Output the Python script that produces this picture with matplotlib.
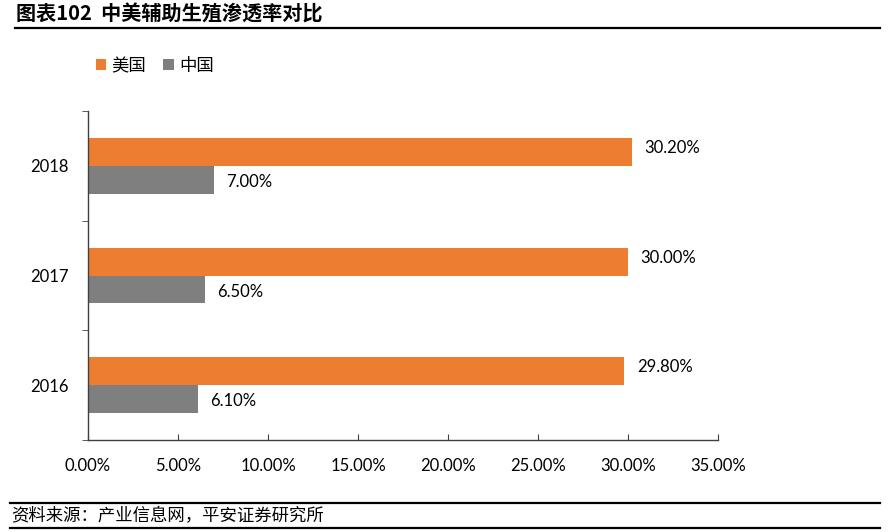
import matplotlib
matplotlib.use("Agg")
import matplotlib.pyplot as plt
import numpy as np

plt.rcParams['font.family'] = ['Noto Sans CJK SC', 'DejaVu Sans']

years = ['2016', '2017', '2018']
usa = [29.8, 30.0, 30.2]
china = [6.1, 6.5, 7.0]
xticks = [0, 5, 10, 15, 20, 25, 30, 35]

LAT = ['Lato', 'DejaVu Sans']

W, H = 891, 532
fig = plt.figure(figsize=(W/100, H/100), dpi=100)
ax = fig.add_axes([88/W, 1-440/H, (718-88)/W, (440-111)/H])

y = np.arange(len(years))
h = 0.255
ax.barh(y + h/2, usa, height=h, color='#ED7D31', label='美国')
ax.barh(y - h/2, china, height=h, color='#7F7F7F', label='中国')

for yi, v in zip(y, usa):
    ax.text(v + 0.7, yi + h/2 + 0.035, f'{v:.2f}%', va='center', ha='left', fontsize=12, family=LAT)
for yi, v in zip(y, china):
    ax.text(v + 0.7, yi - h/2 - 0.02, f'{v:.2f}%', va='center', ha='left', fontsize=12, family=LAT)

ax.set_xlim(0, 35)
ax.set_ylim(-0.5, len(years) - 0.5)
ax.set_xticks(xticks)
ax.set_xticklabels([f'{t:.2f}%' for t in xticks], fontsize=12, family=LAT)
ax.set_yticks(y)
ax.set_yticklabels(years, fontsize=12, family=LAT)
ax.set_yticks(np.arange(-0.5, len(years)), minor=True)
ax.tick_params(axis='y', which='major', length=0, pad=14)
ax.tick_params(axis='y', which='minor', length=4, direction='out', color='#404040')
ax.tick_params(axis='x', which='major', length=4, direction='in', pad=13, color='#404040')
for s in ['top', 'right']:
    ax.spines[s].set_visible(False)
for s in ['left', 'bottom']:
    ax.spines[s].set_color('#404040')
    ax.spines[s].set_linewidth(1)

leg = fig.legend(loc='center left', bbox_to_anchor=(80/W, 1-66/H), ncol=2, frameon=False,
                 fontsize=12.5, handlelength=0.6, handleheight=0.6, handletextpad=0.3, columnspacing=1.0)

fig.text(16/W, 1-14/H, '图表102  中美辅助生殖渗透率对比', fontsize=14.5, fontweight='bold', va='center', ha='left')
fig.add_artist(plt.Line2D([15/W, 880/W], [1-28/H, 1-28/H], color='black', lw=1.6))
fig.add_artist(plt.Line2D([10/W, 880/W], [1-503/H, 1-503/H], color='black', lw=1.6))
fig.add_artist(plt.Line2D([10/W, 880/W], [1-528/H, 1-528/H], color='black', lw=1.6))
fig.text(11/W, 1-516/H, '资料来源：产业信息网，平安证券研究所', fontsize=12.5, style='italic', va='center', ha='left')

fig.savefig('out.png', dpi=100)
